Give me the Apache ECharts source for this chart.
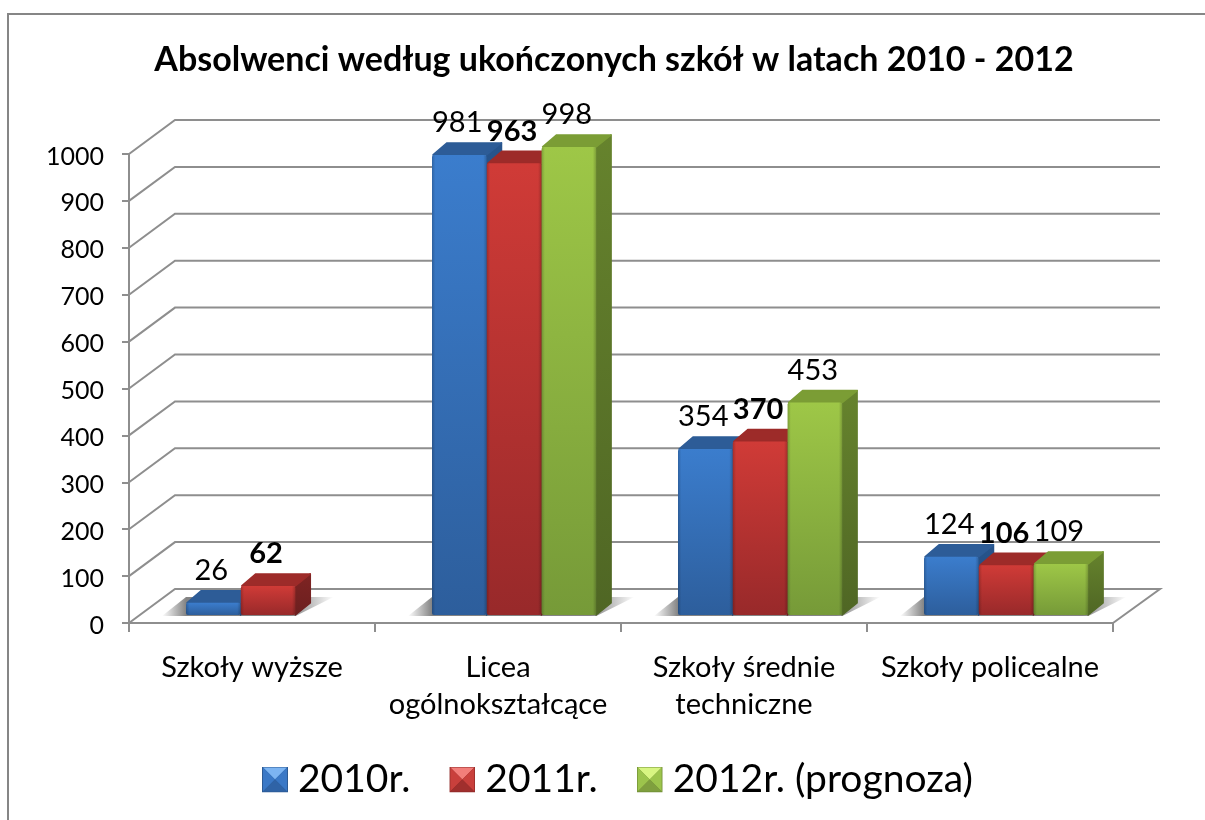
<!DOCTYPE html>
<html>
<head>
<meta charset="utf-8">
<title>Absolwenci</title>
<script src="https://cdn.jsdelivr.net/npm/echarts@6/dist/echarts.min.js"></script>
<style>
html,body{margin:0;padding:0;background:#fff;}
#main{width:1205px;height:820px;}
</style>
</head>
<body>
<div id="main"></div>
<script>
var categories = ['Szkoły wyższe', 'Licea\nogólnokształcące', 'Szkoły średnie\ntechniczne', 'Szkoły policealne'];
var yTicks = [0, 100, 200, 300, 400, 500, 600, 700, 800, 900, 1000];
var names = ['2010r.', '2011r.', '2012r. (prognoza)'];
var values2010 = [26, 981, 354, 124];
var values2011 = [62, 963, 370, 106];
var values2012 = [null, 998, 453, 109];

var FONT = 'Lato, "Noto Sans", sans-serif';
var GRID_COLOR = '#8e8e8e';
var BAR_W = 54.8;
var GROUP_LEFT = 57;

// colours per series: front top, front bottom, top face, side top, side bottom
var palette = [
    ['#3b7dcd', '#2d5e9c', '#2d5c97', '#27548c', '#234a7c'],
    ['#d03b37', '#98292a', '#9d2b29', '#7f2423', '#6b1f1f'],
    ['#9ec747', '#769a38', '#7b9d35', '#66832d', '#4f6624']
];

// bevelled legend square
function icon(c) {
    var svg = '<svg xmlns="http://www.w3.org/2000/svg" width="26" height="26">' +
        '<rect width="26" height="26" fill="' + c[2] + '"/>' +
        '<path d="M1 1H25L13 13Z" fill="' + c[3] + '"/>' +
        '<path d="M1 1L13 13L1 25Z" fill="' + c[0] + '"/>' +
        '<path d="M25 1L13 13L25 25Z" fill="' + c[0] + '"/>' +
        '<path d="M1 25L13 13L25 25Z" fill="' + c[1] + '"/>' +
        '</svg>';
    return 'image://data:image/svg+xml;charset=utf-8,' + encodeURIComponent(svg);
}
var legendIcons = [
    icon(['#3a78c6', '#2f63a6', '#2c5a94', '#7cb4f2']),
    icon(['#c9403c', '#a02f2d', '#8f2a28', '#f27e7a']),
    icon(['#9cc44c', '#7f9f3e', '#6f8c34', '#d8f582'])
];

// wall and floor lines, one item per tick
function renderGrid(params, api) {
    var cs = params.coordSys;
    var v = api.value(1);
    var y = api.coord([0, v])[1];
    var right = cs.x + cs.width;
    var pts = [[cs.x, y], [cs.x + 46, y - 34], [right + 47, y - 34]];
    if (v === 0) {
        pts.push([right, y]);
    }
    return {
        type: 'polyline',
        shape: {points: pts},
        style: {fill: null, stroke: GRID_COLOR, lineWidth: 2}
    };
}

// shadow lying on the floor under every group of bars
function renderShadow(params, api) {
    var cs = params.coordSys;
    var i = api.value(0);
    var catW = cs.width / categories.length;
    var n = [values2010, values2011, values2012].filter(function (s) { return s[i] !== null; }).length;
    var x0 = cs.x + i * catW + GROUP_LEFT;
    var x1 = x0 + n * BAR_W;
    var y = api.coord([0, 0])[1];
    var total = x1 + 38 - (x0 - 24);
    return {
        type: 'polygon',
        shape: {points: [[x0 - 24, y - 7], [x1, y - 7], [x1 + 38, y - 26], [x0, y - 26]]},
        style: {
            fill: {
                type: 'linear', x: 0, y: 0, x2: 1, y2: 0,
                colorStops: [
                    {offset: 0, color: 'rgba(125,125,125,0)'},
                    {offset: 24 / total, color: 'rgba(125,125,125,0.95)'},
                    {offset: (total - 44) / total, color: 'rgba(125,125,125,0.95)'},
                    {offset: 1, color: 'rgba(125,125,125,0)'}
                ]
            }
        }
    };
}

function renderBar(params, api) {
    var cs = params.coordSys;
    var s = params.seriesIndex - 2;
    var c = palette[s];
    var catW = cs.width / categories.length;
    var w = 54.5;
    var dx = 15, dy = 13;
    var x = cs.x + api.value(0) * catW + GROUP_LEFT + s * BAR_W;
    var val = api.value(1);
    var base = api.coord([0, 0])[1] - 8;
    var top = api.coord([0, val])[1] - 8;
    function grad(a, b) {
        return {type: 'linear', x: 0, y: 0, x2: 0, y2: 1, colorStops: [{offset: 0, color: a}, {offset: 1, color: b}]};
    }
    return {
        type: 'group',
        children: [
            {
                type: 'polygon',
                shape: {points: [[x + w, top], [x + w + dx, top - dy + 1], [x + w + dx, base - dy + 1], [x + w, base]]},
                style: {fill: grad(c[3], c[4]), stroke: grad(c[3], c[4]), lineWidth: 1.5, lineJoin: 'round'}
            },
            {
                type: 'polygon',
                shape: {points: [[x + 1, top], [x + dx, top - dy + 1], [x + w + dx, top - dy + 1], [x + w, top]]},
                style: {fill: c[2], stroke: c[2], lineWidth: 1.5, lineJoin: 'round'}
            },
            {
                type: 'rect',
                shape: {x: x, y: top, width: w, height: base - top, r: 2},
                style: {fill: grad(c[0], c[1])}
            },
            {
                type: 'rect',
                shape: {x: x, y: top, width: w, height: base - top, r: 2},
                style: {
                    fill: {
                        type: 'linear', x: 0, y: 0, x2: 1, y2: 0,
                        colorStops: [
                            {offset: 0, color: 'rgba(0,0,0,0.2)'},
                            {offset: 0.06, color: 'rgba(0,0,0,0)'},
                            {offset: 0.94, color: 'rgba(0,0,0,0)'},
                            {offset: 1, color: 'rgba(0,0,0,0.2)'}
                        ]
                    }
                }
            },
            {
                type: 'text',
                z2: 100,
                style: {
                    text: String(val),
                    x: x + w / 2 - 2,
                    y: top - 32,
                    align: 'center',
                    verticalAlign: 'middle',
                    fill: '#000',
                    font: (s === 1 ? 'bold ' : '') + '29px ' + FONT
                }
            }
        ]
    };
}

function barData(values) {
    var out = [];
    values.forEach(function (v, i) {
        if (v !== null) {
            out.push([i, v]);
        }
    });
    return out;
}

var myChart = echarts.init(document.getElementById('main'));
myChart.setOption({
    animation: false,
    backgroundColor: '#fff',
    textStyle: {fontFamily: FONT},
    title: {
        text: 'Absolwenci według ukończonych szkół w latach 2010 - 2012',
        left: 609,
        top: 38,
        textAlign: 'center',
        textStyle: {fontFamily: FONT, fontSize: 34, fontWeight: 'bold', color: '#000'}
    },
    legend: {
        left: 262,
        top: 760,
        padding: 0,
        itemWidth: 26,
        itemHeight: 26,
        itemGap: 39,
        selectedMode: false,
        textStyle: {fontFamily: FONT, fontSize: 39, color: '#000', padding: [0, 0, 0, 5]},
        data: names.map(function (n, i) {
            return {name: n, icon: legendIcons[i]};
        })
    },
    grid: {left: 129, top: 154, width: 984, height: 469},
    xAxis: {
        type: 'category',
        data: categories,
        axisLine: {lineStyle: {color: GRID_COLOR, width: 2}},
        axisTick: {show: true, length: 9, alignWithLabel: false, lineStyle: {color: GRID_COLOR, width: 2}},
        axisLabel: {
            interval: 0,
            margin: 26,
            color: '#000',
            fontFamily: FONT,
            fontSize: 29,
            lineHeight: 37
        }
    },
    yAxis: {
        type: 'value',
        min: 0,
        max: 1000,
        interval: 100,
        splitLine: {show: false},
        axisLine: {show: true, lineStyle: {color: GRID_COLOR, width: 2}},
        axisTick: {show: true, length: 7, lineStyle: {color: GRID_COLOR, width: 2}},
        axisLabel: {
            margin: 25,
            color: '#000',
            formatter: function (v) { return '{v|' + v + '}'; },
            rich: {
                v: {fontFamily: FONT, fontSize: 25, color: '#000', padding: [5, 0, 0, 0]}
            }
        }
    },
    graphic: [{
        type: 'polyline',
        silent: true,
        shape: {points: [[8, 820], [8, 14], [1205, 14]]},
        style: {fill: null, stroke: '#868686', lineWidth: 2}
    }],
    series: [
        {
            type: 'custom',
            name: 'grid',
            z: 1,
            silent: true,
            renderItem: renderGrid,
            data: yTicks.map(function (t) { return [0, t]; })
        },
        {
            type: 'custom',
            name: 'shadow',
            z: 1,
            silent: true,
            renderItem: renderShadow,
            data: categories.map(function (c, i) { return [i, 0]; })
        },
        {type: 'custom', name: names[0], z: 3, silent: true, renderItem: renderBar, data: barData(values2010)},
        {type: 'custom', name: names[1], z: 3, silent: true, renderItem: renderBar, data: barData(values2011)},
        {type: 'custom', name: names[2], z: 3, silent: true, renderItem: renderBar, data: barData(values2012)}
    ]
});
</script>
</body>
</html>
